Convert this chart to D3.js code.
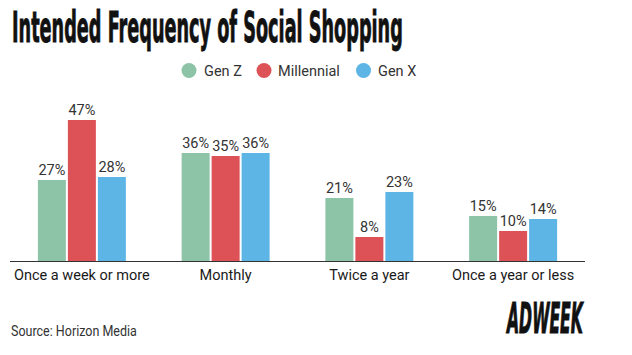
<!DOCTYPE html>
<html><head><meta charset="utf-8">
<script src="https://cdn.jsdelivr.net/npm/d3@7"></script>
<style>body{margin:0;background:#fff}svg{display:block}</style>
</head><body>
<svg id="c" width="632" height="355"></svg>
<script>
const categories = ["Once a week or more", "Monthly", "Twice a year", "Once a year or less"];
const seriesNames = ["Gen Z", "Millennial", "Gen X"];
const genZ = [27, 36, 21, 15];
const millennial = [47, 35, 8, 10];
const genX = [28, 36, 23, 14];
const colors = ["#8dc4a8", "#dd5257", "#5cb5e5"];
const title = "Intended Frequency of Social Shopping";
const source = "Source: Horizon Media";

const values = [genZ, millennial, genX];
const svg = d3.select("#c");
const font = "Roboto, 'Noto Sans', sans-serif";
const condensed = "'Liberation Sans Narrow', 'DejaVu Sans Condensed', 'Liberation Sans', sans-serif";

const x0 = d3.scaleBand().domain(categories).range([10, 585]).paddingInner(0.388).paddingOuter(0.194);
const x1 = d3.scaleBand().domain(seriesNames).range([0, x0.bandwidth()]).paddingInner(0.0667).paddingOuter(0);
const y = d3.scaleLinear().domain([0, 50]).range([261, 111]);

// fit text to a width by horizontal scaling
function fitText(sel, x, yPos, width) {
  const w = sel.node().getComputedTextLength();
  sel.attr("transform", `translate(${x},${yPos}) scale(${width / w},1)`);
}

// title
const t = svg.append("text").attr("x", 0).attr("y", 0)
  .attr("font-family", condensed)
  .attr("font-weight", "bold").attr("font-size", 42).attr("fill", "#111")
  .attr("stroke", "#111").attr("stroke-width", 0.9)
  .text(title);
fitText(t, 12, 42, 391);

// legend
const legendPos = [{cx:189, tx:204}, {cx:264, tx:278}, {cx:363.5, tx:378}];
seriesNames.forEach((s, i) => {
  svg.append("circle").attr("cx", legendPos[i].cx).attr("cy", 70.5).attr("r", 7.5).attr("fill", colors[i]);
  svg.append("text").attr("x", legendPos[i].tx).attr("y", 76)
    .attr("font-family", font).attr("font-size", 14.5).attr("fill", "#333").text(s);
});

// bars
const g = svg.append("g");
categories.forEach((c, ci) => {
  const grp = g.append("g").attr("transform", `translate(${x0(c)},0)`);
  seriesNames.forEach((s, si) => {
    const v = values[si][ci];
    grp.append("rect").attr("x", x1(s)).attr("y", y(v))
      .attr("width", x1.bandwidth()).attr("height", y(0) - y(v)).attr("fill", colors[si]);
    grp.append("text").attr("x", x1(s) + x1.bandwidth() / 2).attr("y", y(v) - 5.5)
      .attr("text-anchor", "middle").attr("font-family", font).attr("font-size", 14.5)
      .attr("fill", "#333").text(v + "%");
  });
});

// axis
const axis = svg.append("g").attr("transform", `translate(0,${y(0)})`)
  .call(d3.axisBottom(x0).tickSize(0).tickPadding(0));
axis.select(".domain").attr("stroke", "#333").attr("stroke-width", 1).attr("d", "M10,0.5H585");
axis.selectAll(".tick text").attr("dy", 0).attr("y", 19).attr("font-family", font)
  .attr("font-size", 14.5).attr("fill", "#1a1a1a");

// source
const src = svg.append("text").attr("x", 0).attr("y", 0).attr("font-family", font)
  .attr("font-size", 14).attr("fill", "#333").text(source);
fitText(src, 11, 336, 126);

// logo
const logo = svg.append("text").attr("x", 0).attr("y", 0)
  .attr("font-family", condensed)
  .attr("font-weight", "bold").attr("font-style", "italic").attr("font-size", 42).attr("fill", "#111")
  .attr("stroke", "#111").attr("stroke-width", 1)
  .text("ADWEEK");
fitText(logo, 507, 333, 76);
</script>
</body></html>
